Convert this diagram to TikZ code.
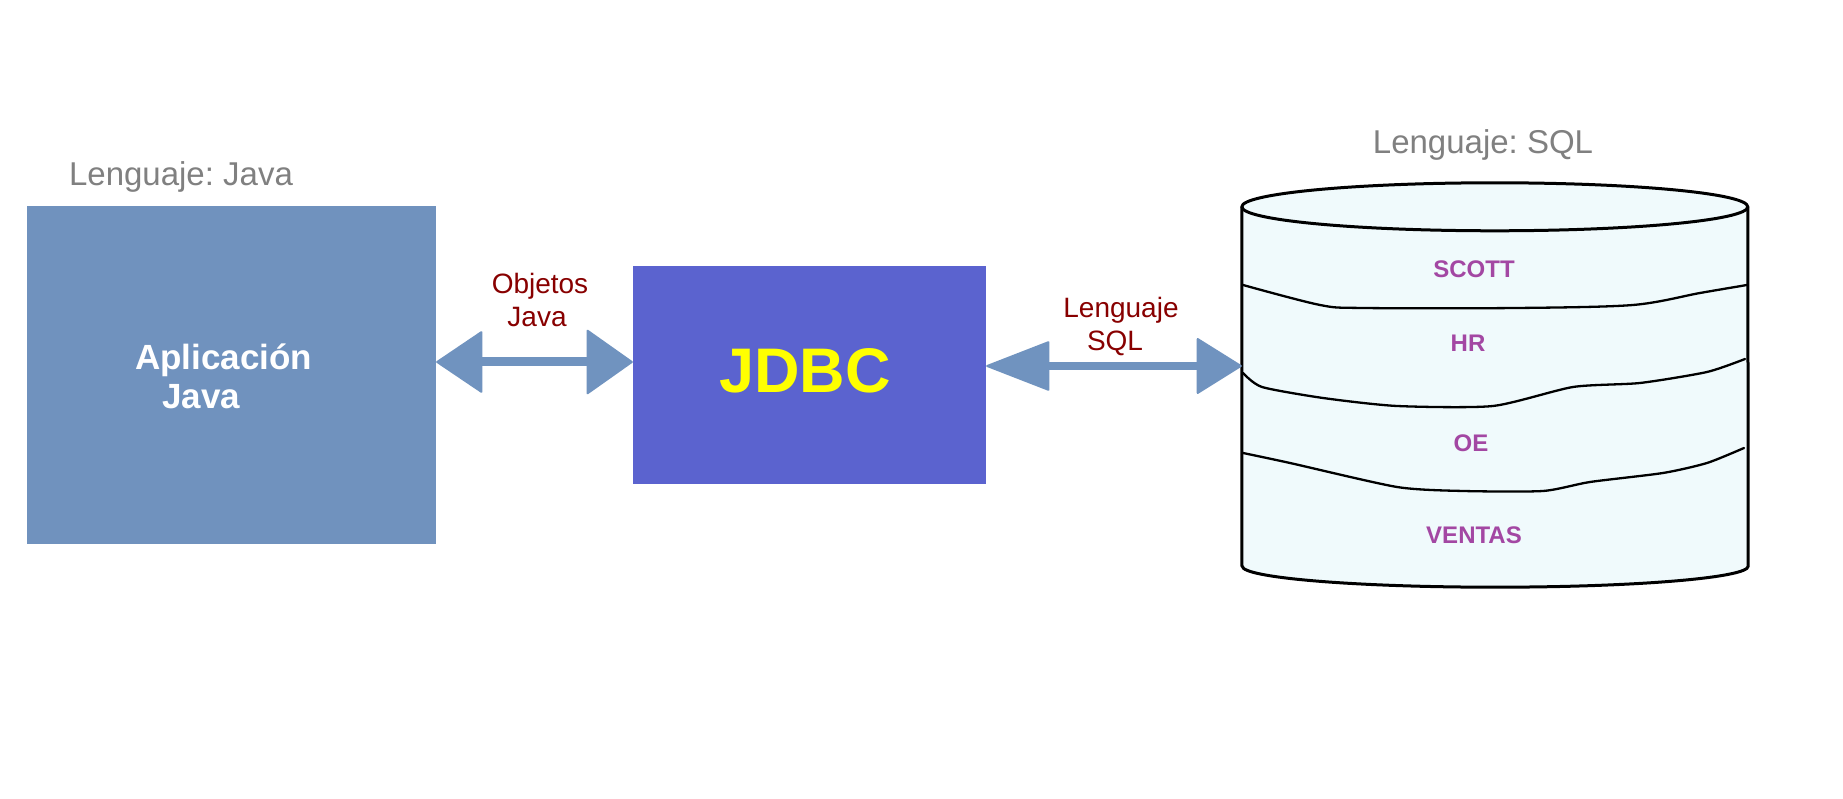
\documentclass[tikz,border=0pt]{standalone}
\usepackage{fontspec}
\setmainfont{Liberation Sans}
\usetikzlibrary{arrows.meta}
\frenchspacing
\definecolor{appblue}{RGB}{112,146,190}
\definecolor{jdbcblue}{RGB}{91,99,207}
\definecolor{arrowblue}{RGB}{112,147,191}
\definecolor{greytext}{RGB}{128,128,128}
\definecolor{darkredtext}{RGB}{136,0,0}
\definecolor{purpletext}{RGB}{163,71,163}
\definecolor{cylfill}{RGB}{240,250,252}
\definecolor{jdbcyellow}{RGB}{255,255,0}
\tikzset{
  greylabel/.style={inner sep=0pt, anchor=base, text=greytext, font=\fontsize{33}{40}\selectfont},
  whitelabel/.style={inner sep=0pt, anchor=base west, text=white, font=\bfseries\fontsize{35}{40}\selectfont},
  redlabel/.style={inner sep=0pt, anchor=base, text=darkredtext, font=\fontsize{28}{33}\selectfont},
  dblabel/.style={inner sep=0pt, anchor=base, text=purpletext, font=\bfseries\fontsize{24}{28}\selectfont},
  flatbox/.style={rectangle, inner sep=0pt, draw=none},
  biarrow/.style={draw=arrowblue, fill=arrowblue, line width=9pt},
  cylline/.style={draw=black, line width=3pt, line join=round},
  divline/.style={draw=black, line width=2.3pt, line join=round, line cap=round}
}
\begin{document}
\begin{tikzpicture}[x=1pt,y=1pt]
\useasboundingbox (0,0) rectangle (1843,799);
\fill[white] (0,0) rectangle (1843,799);

% left application box
\node[greylabel] (langjava) at (181,613) {Lenguaje: Java};
\node[flatbox, fill=appblue, minimum width=409pt, minimum height=338pt] (app) at (231.5,424) {};
\node[whitelabel] (aplic) at (135,429) {Aplicación};
\node[whitelabel] (appjava) at (162,390) {Java};

% JDBC box
\node[flatbox, fill=jdbcblue, minimum width=353pt, minimum height=218pt] (jdbc) at (809.5,424) {};
\node[inner sep=0pt, anchor=base, text=jdbcyellow, font=\bfseries\fontsize{63}{70}\selectfont] (jdbctext) at (805,406) {JDBC};

% arrow labels
\node[redlabel] (obj1) at (540,505) {Objetos};
\node[redlabel] (obj2) at (537,472) {Java};
\node[redlabel] (sql1) at (1121,481) {Lenguaje};
\node[redlabel] (sql2) at (1115,448) {SQL};

% database cylinder
\node[greylabel] (langsql) at (1483,645) {Lenguaje: SQL};
\node[flatbox, minimum width=506pt, minimum height=359pt] (db) at (1495,412.5) {};
\filldraw[cylline, fill=cylfill] (db.south west) -- (db.north west)
  arc[start angle=180, end angle=0, x radius=253, y radius=24]
  -- (db.south east)
  arc[start angle=0, end angle=-180, x radius=253, y radius=21] -- cycle;
\draw[cylline] (db.north west) arc[start angle=180, end angle=360, x radius=253, y radius=24];

\draw[divline] plot[smooth, tension=0.5] coordinates {(1243,514) (1320,494) (1363,491) (1517,491) (1633,494) (1700,506) (1747,514)};
\draw[divline] plot[smooth, tension=0.4] coordinates {(1243,426) (1262,412) (1323,401) (1397,393) (1493,393) (1573,412) (1640,416) (1707,427) (1745,440)};
\draw[divline] plot[smooth, tension=0.4] coordinates {(1243,346) (1290,336) (1397,312) (1463,308) (1543,308) (1590,317) (1663,326) (1707,336) (1744,351)};

\node[dblabel] (scott) at (1474,521) {SCOTT};
\node[dblabel] (hr) at (1468,447) {HR};
\node[dblabel] (oe) at (1471,347) {OE};
\node[dblabel] (ventas) at (1474,255) {VENTAS};

% connectors
\draw[biarrow, {Triangle[length=47pt,width=63pt,round,line width=2pt]}-{Triangle[length=47pt,width=66pt,round,line width=2pt]}]
  (app.east |- 0,437) -- (jdbc.west |- 0,437);
\draw[biarrow, line width=8pt, {Triangle[length=65pt,width=50pt,round,line width=2pt]}-{Triangle[length=46pt,width=57pt,round,line width=2pt]}]
  (jdbc.east |- 0,433) -- (db.west |- 0,433);
\end{tikzpicture}
\end{document}
